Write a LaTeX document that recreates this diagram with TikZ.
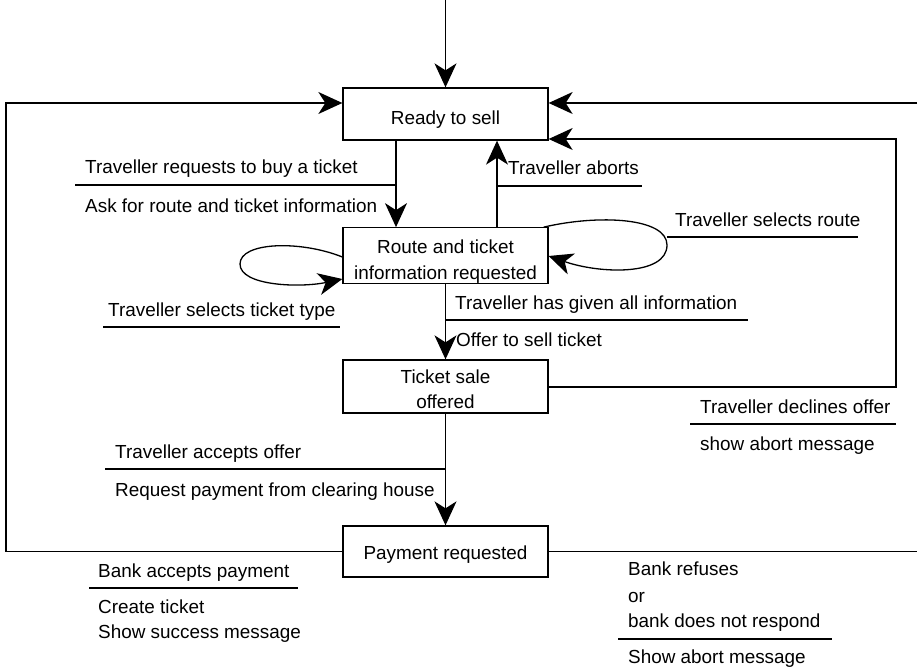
\documentclass[tikz,border=0pt]{standalone}
\usepackage{fontspec}
\setmainfont{Liberation Sans}
\usetikzlibrary{arrows.meta}
% invisible strut that lowers text inside a fixed-height box
\newcommand{\toppad}[1]{\rule{0pt}{#1}}
\begin{document}
\begin{tikzpicture}[x=1pt,y=-1pt,
  every node/.style={font=\fontsize{18.9}{25.5}\selectfont},
  state/.style={draw,line width=1.3pt,minimum width=205pt,inner sep=0pt,align=center},
  arr/.style={line width=1.3pt,-{Stealth[length=24pt,width=22pt,inset=7pt]}},
  wire/.style={line width=1.3pt},
  sep/.style={line width=1.3pt},
  lbl/.style={anchor=base west,inner sep=0pt}]
\useasboundingbox (0,0) rectangle (918,671);

% states
\node[state,minimum height=52pt] (ready) at (445.5,114) {\toppad{24pt}Ready to sell};
\node[state,minimum height=53pt] (route) at (445.5,255.5) {\toppad{26pt}Route and ticket\\information requested};
\node[state,minimum height=53pt] (sale) at (445.5,386.5) {\toppad{19pt}Ticket sale\\offered};
\node[state,minimum height=51pt] (pay) at (445.5,551.5) {\toppad{20pt}Payment requested};

% free ends of the connectors
\coordinate (start) at (445.5,0);
\coordinate (lc1) at (6,551.5);
\coordinate (lc2) at (6,103);
\coordinate (rtop) at (917,103);
\coordinate (rbot) at (917,551.5);
\coordinate (dc1) at (896,387);
\coordinate (dc2) at (896,139);

% initial transition
\draw[arr] (start) -- (ready.north);

% ready -> route
\draw[arr] ([xshift=-49.5pt]ready.south) -- ([xshift=-49.5pt]route.north);
% route -> ready (abort)
\draw[arr] ([xshift=51.5pt]route.north) -- ([xshift=51.5pt]ready.south);
% route -> sale
\draw[arr] (route.south) -- (sale.north);
% sale -> payment
\draw[arr] (sale.south) -- (pay.north);
% payment accepted -> ready
\draw[arr] (pay.west) -- (lc1) -- (lc2) -- ([yshift=11pt]ready.west);
% payment refused -> ready
\draw[wire] (pay.east) -- (rbot);
\draw[arr] (rtop) -- ([yshift=11pt]ready.east);
% offer declined -> ready
\draw[arr] (sale.east |- dc1) -- (dc1) -- (dc2) -- ([yshift=-25pt]ready.east);

% self loops on the route state
\draw[arr] ([xshift=-5pt]route.north east) .. controls (600,214) and (667,218) .. (667,245)
  .. controls (667,276) and (600,274) .. ([yshift=-0.5pt]route.east);
\draw[arr] ([yshift=-1.5pt]route.west) .. controls (300,240) and (240,242) .. (240,264)
  .. controls (240,286) and (300,288) .. ([yshift=-23.5pt]route.west);

% transition labels: trigger above the rule, action below
\draw[sep] (75,185) -- (396,185);
\node[lbl] (t1) at (85,174) {Traveller requests to buy a ticket};
\node[lbl] (a1) at (85,212) {Ask for route and ticket information};

\draw[sep] (497,186) -- (642,186);
\node[lbl] (t2) at (508,175) {Traveller aborts};

\draw[sep] (667,237) -- (858,237);
\node[lbl] (t3) at (675,226) {Traveller selects route};

\draw[sep] (103,327) -- (340,327);
\node[lbl] (t4) at (108,316) {Traveller selects ticket type};

\draw[sep] (445.5,320) -- (748,320);
\node[lbl] (t5) at (455,309) {Traveller has given all information};
\node[lbl] (a5) at (456,346) {Offer to sell ticket};

\draw[sep] (690,424) -- (896,424);
\node[lbl] (t6) at (700,413) {Traveller declines offer};
\node[lbl] (a6) at (700,450) {show abort message};

\draw[sep] (105,469) -- (445.5,469);
\node[lbl] (t7) at (115,458) {Traveller accepts offer};
\node[lbl] (a7) at (115,496) {Request payment from clearing house};

\draw[sep] (89,588) -- (298,588);
\node[lbl] (t8) at (98,577) {Bank accepts payment};
\node[lbl] (a8) at (98,613) {Create ticket};
\node[lbl] (a8b) at (98,638) {Show success message};

\draw[sep] (618,639) -- (832,639);
\node[lbl] (t9) at (628,575) {Bank refuses};
\node[lbl] (t9b) at (628,602) {or};
\node[lbl] (t9c) at (628,627) {bank does not respond};
\node[lbl] (a9) at (628,663) {Show abort message};
\end{tikzpicture}
\end{document}
